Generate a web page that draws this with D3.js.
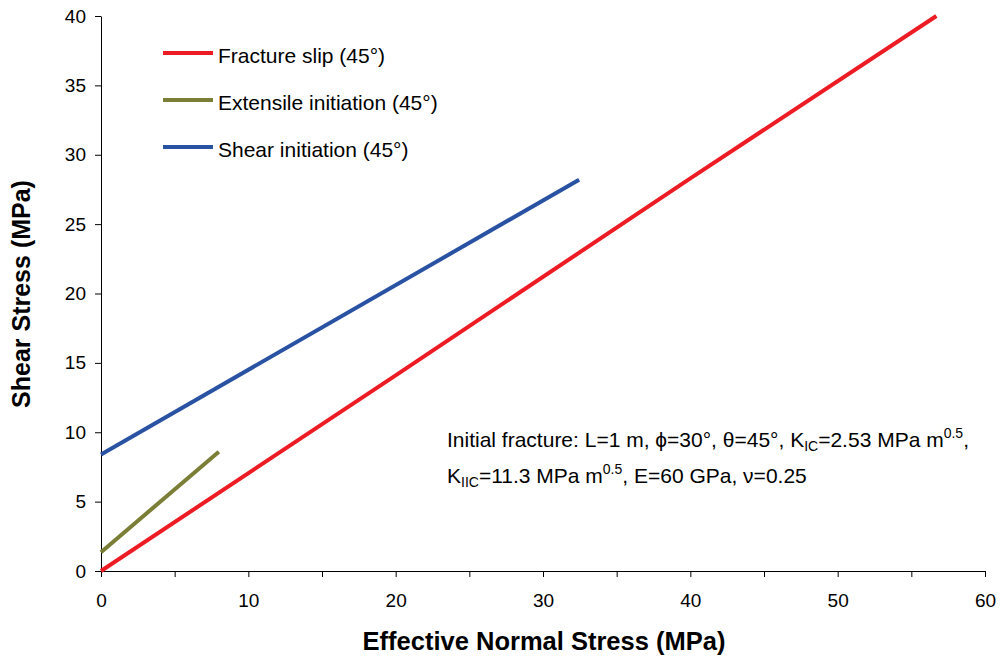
<!DOCTYPE html>
<html><head><meta charset="utf-8">
<script src="https://cdn.jsdelivr.net/npm/d3@7"></script>
<style>body{margin:0;background:#fff}svg{font-family:"Liberation Sans",Arial,sans-serif}</style>
</head><body>
<script>
const seriesNames = ["Fracture slip (45°)", "Extensile initiation (45°)", "Shear initiation (45°)"];
const seriesColors = ["#ED1C24", "#7B7E36", "#2A52A3"];
const slipX = [0, 20, 40, 56.7];
const slipY = [0, 14.1, 28.3, 40];
const extX = [0, 8];
const extY = [1.35, 8.6];
const shearX = [0, 32.45];
const shearY = [8.4, 28.2];
const xTicks = [0, 5, 10, 15, 20, 25, 30, 35, 40, 45, 50, 55, 60];
const xLabels = [0, 10, 20, 30, 40, 50, 60];
const yTicks = [0, 5, 10, 15, 20, 25, 30, 35, 40];

const W = 1000, H = 657;
const svg = d3.select("body").append("svg").attr("width", W).attr("height", H);
const x = d3.scaleLinear().domain([0, 60]).range([101, 985]);
const y = d3.scaleLinear().domain([0, 40]).range([571, 16]);

// axes
const xa = svg.append("g").attr("transform", `translate(0,${y(0)})`)
  .call(d3.axisBottom(x).tickValues(xTicks).tickSize(6).tickSizeOuter(0)
    .tickFormat(d => xLabels.includes(d) ? d : ""));
xa.selectAll("text").attr("font-size", 19).attr("y", 36).attr("dy", "0").attr("fill", "#000");
const ya = svg.append("g").attr("transform", `translate(${x(0)},0)`)
  .call(d3.axisLeft(y).tickValues(yTicks).tickSize(6).tickSizeOuter(0).tickPadding(9));
ya.selectAll("text").attr("font-size", 19).attr("fill", "#000");
svg.selectAll(".domain, .tick line").attr("stroke", "#000").attr("stroke-width", 1);
svg.selectAll(".tick text").attr("font-family", "Liberation Sans, Arial, sans-serif");

// lines
const data = [
  slipX.map((v, i) => [v, slipY[i]]),
  extX.map((v, i) => [v, extY[i]]),
  shearX.map((v, i) => [v, shearY[i]])
];
const line = d3.line().x(d => x(d[0])).y(d => y(d[1]));
data.forEach((d, i) => {
  svg.append("path").datum(d).attr("d", line).attr("fill", "none")
    .attr("stroke", seriesColors[i]).attr("stroke-width", 4);
});

// legend
const legY = [53, 100, 147];
seriesNames.forEach((n, i) => {
  svg.append("line").attr("x1", 163).attr("x2", 213).attr("y1", legY[i]).attr("y2", legY[i])
    .attr("stroke", seriesColors[i]).attr("stroke-width", 4);
  svg.append("text").attr("x", 218).attr("y", legY[i] + 9.5).attr("font-size", 21).text(n);
});

// axis titles
svg.append("text").attr("x", 544).attr("y", 650).attr("text-anchor", "middle")
  .attr("font-size", 25.5).attr("font-weight", "bold").text("Effective Normal Stress (MPa)");
svg.append("text").attr("transform", "translate(30,294) rotate(-90)").attr("text-anchor", "middle")
  .attr("font-size", 25).attr("font-weight", "bold").text("Shear Stress (MPa)");

// annotation
const t1 = svg.append("text").attr("x", 447).attr("y", 447).attr("font-size", 21);
t1.append("tspan").text("Initial fracture: L=1 m, \u03D5=30°, \u03B8=45°, K");
t1.append("tspan").attr("font-size", 14).attr("dy", 4).text("IC");
t1.append("tspan").attr("dy", -4).text("=2.53 MPa m");
t1.append("tspan").attr("font-size", 14).attr("dy", -9).text("0.5");
t1.append("tspan").attr("dy", 9).text(",");
const t2 = svg.append("text").attr("x", 447).attr("y", 483).attr("font-size", 21);
t2.append("tspan").text("K");
t2.append("tspan").attr("font-size", 14).attr("dy", 4).text("IIC");
t2.append("tspan").attr("dy", -4).text("=11.3 MPa m");
t2.append("tspan").attr("font-size", 14).attr("dy", -9).text("0.5");
t2.append("tspan").attr("dy", 9).text(", E=60 GPa, \u03BD=0.25");
</script>
</body></html>
